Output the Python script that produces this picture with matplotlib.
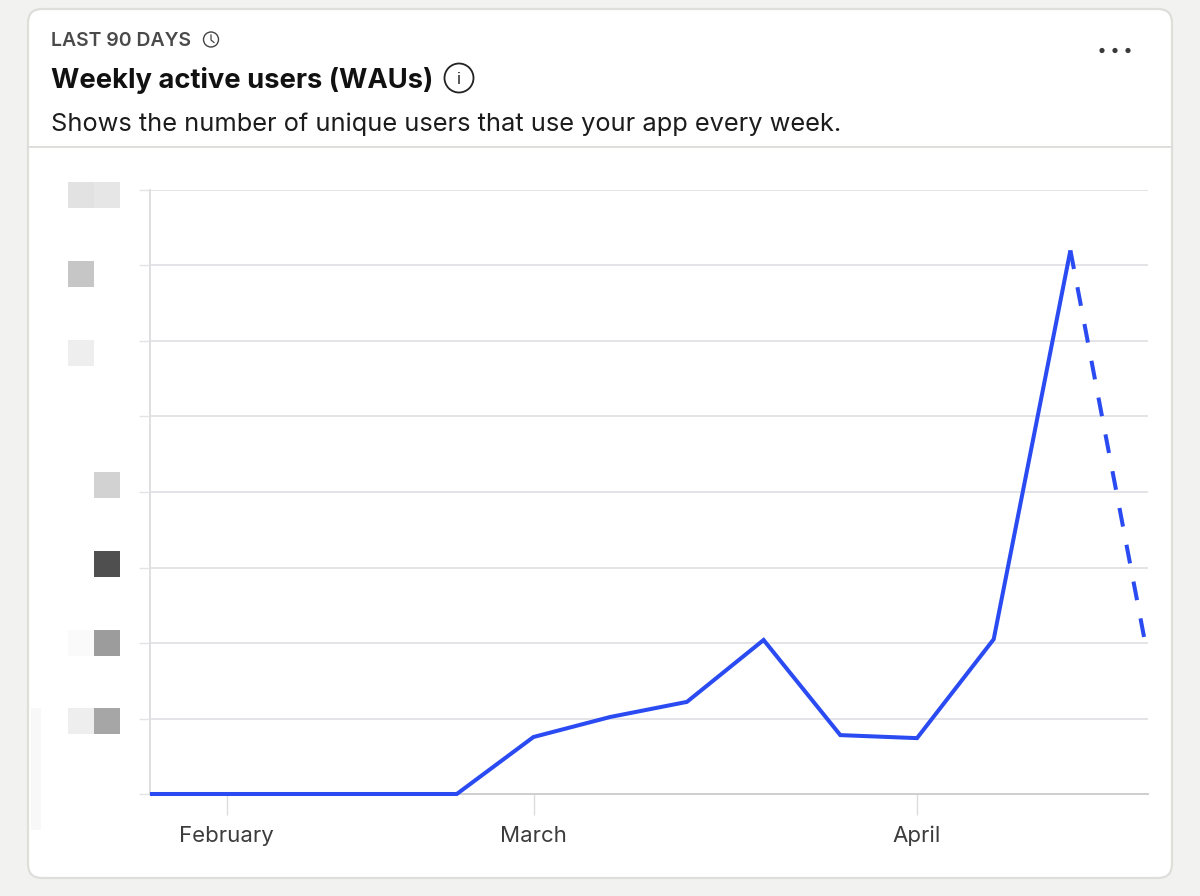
import matplotlib
matplotlib.use("Agg")
import matplotlib.pyplot as plt
from matplotlib.patches import FancyBboxPatch, Rectangle, Circle

W, H = 1200, 896

# weekly points, y is in gridline units (labels are pixelated in the source)
weeks = list(range(13))
solid_vals = [0, 0, 0, 0, 0, 0.755, 1.02, 1.22, 2.04, 0.78, 0.74, 2.05, 7.2]
dash_weeks = [12, 12.96]
dash_vals = [7.2, 2.08]
grid_vals = [0, 1, 2, 3, 4, 5, 6, 7, 8]
month_weeks = [1, 5, 10]
month_names = ["February", "March", "April"]

# the blurred-out y tick labels
blur_x = [68, 94, 68, 68, 94, 94, 94, 68, 68, 94]
blur_y = [182, 182, 261, 340, 472, 551, 630, 630, 708, 708]
blur_c = ["#e2e2e2", "#e6e6e6", "#c6c6c6", "#eeeeee", "#d2d2d2",
          "#4f4f4f", "#9c9c9c", "#fafafa", "#eeeeee", "#a6a6a6"]

plt.rcParams['font.family'] = ['Inter', 'DejaVu Sans']

fig = plt.figure(figsize=(W / 100, H / 100), dpi=100, facecolor="#f2f2f0")

# background layer in pixel coords, for the card and header
bg = fig.add_axes([0, 0, 1, 1], zorder=0)
bg.set_xlim(0, W)
bg.set_ylim(H, 0)
bg.set_axis_off()

bg.add_patch(FancyBboxPatch((28, 9), 1144, 869, boxstyle="round,pad=0,rounding_size=14",
                            facecolor="white", edgecolor="#dededa", linewidth=1.6))
bg.plot([28, 1172], [147.5, 147.5], color="#dcdcd8", lw=1.3)

bg.text(51, 41, "LAST 90 DAYS", fontsize=14, fontweight="semibold", color="#4a4a4a", va="center")
bg.add_patch(Circle((211, 39.5), 7.5, fill=False, edgecolor="#444444", lw=1))
bg.plot([211, 211, 214], [35, 40, 42.5], color="#444444", lw=0.9)

bg.text(51, 80, "Weekly active users (WAUs)", fontsize=19.7, fontweight="bold", color="#111111", va="center")
bg.add_patch(Circle((459, 78), 14.5, fill=False, edgecolor="#222222", lw=1.3))
bg.text(459, 79, "i", fontsize=12, color="#222222", ha="center", va="center")

bg.text(51, 124, "Shows the number of unique users that use your app every week.",
        fontsize=18.3, color="#1c1c1c", va="center")

for cx in [1102, 1115, 1128]:
    bg.add_patch(Circle((cx, 50.5), 2.6, color="#3a3a3a", lw=0))

for x, y, c in zip(blur_x, blur_y, blur_c):
    bg.add_patch(Rectangle((x, y), 26, 26, facecolor=c, edgecolor="none"))
bg.add_patch(Rectangle((31, 708), 10, 122, facecolor="#f8f8f8", edgecolor="none"))

# chart axes: x 150..1148, y 794..190 in pixels
ax = fig.add_axes([150 / W, 1 - 794 / H, 998 / W, 604 / H], zorder=1)
ax.patch.set_alpha(0)
ax.set_xlim(0, 998 / 76.7)
ax.set_ylim(0, 8)

ax.plot(weeks, solid_vals, color="#2b4bf2", lw=2.9, solid_joinstyle="miter",
        solid_capstyle="butt", clip_on=False, zorder=3)
ax.plot(dash_weeks, dash_vals, color="#2b4bf2", lw=2.9, dashes=(4.7, 4.6),
        dash_capstyle="butt", clip_on=False, zorder=3)

ax.grid(axis="y", color="#e4e4e8", lw=1.4)
ax.set_axisbelow(True)
for s in ["top", "right"]:
    ax.spines[s].set_visible(False)
ax.spines["left"].set_color("#dfdfe2")
ax.spines["left"].set_linewidth(1.4)
ax.spines["bottom"].set_color("#cfcfd2")
ax.spines["bottom"].set_linewidth(1.4)

ax.set_yticks(grid_vals)
ax.set_yticklabels([])
ax.tick_params(axis="y", length=8, width=1, color="#e4e4e4")
ax.set_xticks(month_weeks)
ax.set_xticklabels(month_names, fontsize=16, color="#3c3c3c")
ax.tick_params(axis="x", length=15, width=1, color="#dcdcdc", pad=8)
for t in ax.xaxis.get_major_ticks() + ax.yaxis.get_major_ticks():
    t.tick1line.set_linestyle((0, (3, 3)))

fig.savefig("out.png", dpi=100, facecolor=fig.get_facecolor())
